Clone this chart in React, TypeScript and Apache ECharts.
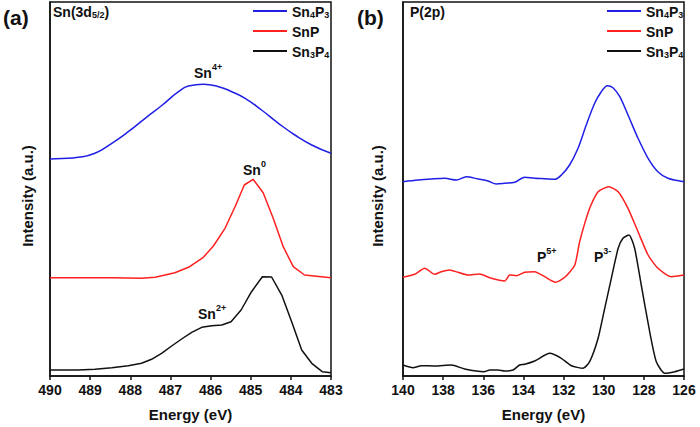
import React, { useEffect, useRef } from "react";
import * as echarts from "echarts";

// ---- Panel (a): Sn(3d5/2) ----
const snEnergyBlue = [490, 489.7, 489.3, 488.88, 488.46, 488.05, 487.63, 487.2, 486.8, 486.55, 486.18, 485.8, 485.47, 485.14, 484.73, 484.31, 483.9, 483.48, 483];
const snSn4P3 = [217, 217.5, 218.7, 222.7, 232.7, 244.3, 257.7, 271, 284.3, 290, 291.7, 289.3, 284.3, 277.7, 266, 252.7, 241, 231, 222.7];

const snEnergyRed = [490, 489.3, 488.46, 487.72, 487.38, 486.89, 486.55, 486.18, 485.93, 485.64, 485.39, 485.16, 484.94, 484.69, 484.44, 484.19, 483.94, 483.66, 483];
const snSnP = [98.3, 98.3, 98.3, 97.7, 98.7, 103.3, 108.7, 118.7, 130, 147.7, 169.3, 191, 196.7, 183.3, 157.7, 129.3, 109.3, 101, 98.3];

const snEnergyBlack = [490, 489.3, 488.88, 488.46, 488.05, 487.72, 487.47, 487.22, 486.97, 486.72, 486.47, 486.22, 485.97, 485.72, 485.49, 485.24, 484.98, 484.71, 484.48, 484.22, 483.98, 483.73, 483.48, 483.22, 483];
const snSn3P4 = [6, 6, 6.7, 8.3, 10.3, 12.7, 16.7, 22.7, 30, 37, 43.7, 48.7, 50.3, 51, 54.3, 66, 84.3, 99.3, 99, 80.3, 54.3, 26, 12.7, 4.3, 3.3];

// ---- Panel (b): P(2p) ----
const pEnergyBlue = [140, 139.25, 138.59, 137.92, 137.34, 136.84, 136.26, 135.76, 135.35, 134.93, 134.43, 133.94, 133.44, 132.94, 132.44, 132.11, 131.7, 131.28, 130.87, 130.45, 130.12, 129.82, 129.54, 129.2, 128.79, 128.29, 127.79, 127.3, 126.8, 126];
const pSn4P3 = [194.3, 196, 197, 197.7, 196, 199.3, 197, 195, 192, 192.7, 193.7, 198.7, 197.7, 197.3, 196.7, 201, 211, 227.7, 251, 272.7, 284.3, 290.3, 288.3, 279.3, 261, 237.7, 217.7, 204.3, 197.7, 194.3];

const pEnergyRed = [140, 139.42, 138.92, 138.42, 138.09, 137.67, 137.26, 136.76, 136.18, 135.68, 134.93, 134.68, 134.35, 133.94, 133.44, 132.94, 132.41, 131.94, 131.44, 131.2, 130.7, 130.28, 129.75, 129.28, 128.79, 128.29, 127.79, 127.3, 126.63, 126];
const pSnP = [98.7, 101.7, 107.7, 101.7, 104.3, 106, 103.7, 101, 102, 98.3, 95, 101, 100.3, 103.7, 104.3, 99.3, 93.7, 98.7, 111, 134.3, 167.7, 184.3, 189.3, 184.3, 167.7, 144.3, 121, 107.7, 99.3, 101];

const pEnergyBlack = [140, 139.5, 139.09, 138.42, 137.59, 136.93, 135.96, 135.68, 135.27, 134.93, 134.52, 134.19, 133.94, 133.44, 132.69, 132.11, 131.61, 131.03, 130.7, 130.28, 129.95, 129.62, 129.28, 129.04, 128.74, 128.46, 128.13, 127.71, 127.38, 126.96, 126.46, 126];
const pSn3P4 = [11, 8.3, 10.3, 10, 11, 7, 4.3, 6, 6, 5, 6, 11, 11.7, 15, 22.7, 17.7, 10.3, 7.7, 14.3, 37.7, 67.7, 97.7, 127.7, 137.7, 141, 127.7, 91, 44.3, 14.3, 2.7, 4.3, 7];

const seriesNames = ["Sn4P3", "SnP", "Sn3P4"];
const seriesColors = ["#1f1fe6", "#ff2020", "#111111"];

const FONT = "Liberation Sans, Arial, sans-serif";

const zip = (xs: number[], ys: number[]) => xs.map((x, i) => [x, ys[i]]);

const legendRich = {
  n: { fontSize: 14, fontWeight: "bold", fontFamily: FONT, color: "#111", lineHeight: 16, verticalAlign: "bottom" },
  s: { fontSize: 9, fontWeight: "bold", fontFamily: FONT, color: "#111", lineHeight: 10, verticalAlign: "bottom" },
};

const legendFormatter = (name: string) => {
  if (name === "Sn4P3") return "{n|Sn}{s|4}{n|P}{s|3}";
  if (name === "Sn3P4") return "{n|Sn}{s|3}{n|P}{s|4}";
  return "{n|" + name + "}";
};

const annRich = {
  b: { fontSize: 14, fontWeight: "bold", fontFamily: FONT, fill: "#111", lineHeight: 18, verticalAlign: "bottom" },
  sup: { fontSize: 9, fontWeight: "bold", fontFamily: FONT, fill: "#111", lineHeight: 10, verticalAlign: "top" },
  sub: { fontSize: 9, fontWeight: "bold", fontFamily: FONT, fill: "#111", lineHeight: 12, verticalAlign: "bottom" },
};

function ann(x: number, y: number, text: string) {
  return { type: "text", left: x, top: y, style: { text, rich: annRich, fill: "#111", font: "bold 14px " + FONT } };
}

export default function App() {
  const ref = useRef<HTMLDivElement>(null);
  useEffect(() => {
    if (!ref.current) return;
    const chart = echarts.init(ref.current, undefined, { renderer: "svg" });

    const xAxisCommon = {
      type: "value",
      inverse: true,
      name: "Energy (eV)",
      nameLocation: "middle",
      nameGap: 31,
      nameTextStyle: { fontSize: 15, fontWeight: "bold", fontFamily: FONT, color: "#111" },
      axisLine: { show: true, lineStyle: { color: "#111", width: 1.5 } },
      axisTick: { show: true, length: 4, inside: false, lineStyle: { color: "#111", width: 1.5 } },
      axisLabel: { fontSize: 14, fontWeight: "bold", fontFamily: FONT, color: "#111", margin: 7 },
      splitLine: { show: false },
    };
    const yAxisCommon = {
      type: "value",
      min: 0,
      max: 374,
      name: "Intensity (a.u.)",
      nameLocation: "middle",
      nameRotate: 90,
      nameTextStyle: { fontSize: 15, fontWeight: "bold", fontFamily: FONT, color: "#111", padding: [0, 14, 0, 0] },
      axisLine: { show: true, lineStyle: { color: "#111", width: 1.5 } },
      axisTick: { show: false },
      axisLabel: { show: false },
      splitLine: { show: false },
    };

    const mk = (name: string, idx: number, data: number[][], smooth: any) => ({
      type: "line",
      name,
      xAxisIndex: idx,
      yAxisIndex: idx,
      data,
      symbol: "none",
      smooth,
      lineStyle: { width: 1.5, color: seriesColors[seriesNames.indexOf(name)] },
      itemStyle: { color: seriesColors[seriesNames.indexOf(name)] },
    });

    const legendCommon = {
      orient: "vertical",
      top: 0,
      padding: 5,
      itemWidth: 34,
      itemHeight: 2,
      itemGap: 6,
      icon: "rect",
      data: seriesNames,
      formatter: legendFormatter,
      textStyle: { rich: legendRich },
    };

    chart.setOption({
      animation: false,
      backgroundColor: "#ffffff",
      grid: [
        { left: 50, right: 369, top: 2, bottom: 51, show: true, borderColor: "#111", borderWidth: 1.5 },
        { left: 403, right: 16, top: 2, bottom: 51, show: true, borderColor: "#111", borderWidth: 1.5 },
      ],
      xAxis: [
        { ...xAxisCommon, gridIndex: 0, min: 483, max: 490, interval: 1 },
        { ...xAxisCommon, gridIndex: 1, min: 126, max: 140, interval: 2 },
      ],
      yAxis: [
        { ...yAxisCommon, gridIndex: 0, nameGap: 15 },
        { ...yAxisCommon, gridIndex: 1, nameGap: 18 },
      ],
      legend: [
        { ...legendCommon, left: 248 },
        { ...legendCommon, left: 602 },
      ],
      series: [
        mk("Sn4P3", 0, zip(snEnergyBlue, snSn4P3), true),
        mk("SnP", 0, zip(snEnergyRed, snSnP), false),
        mk("Sn3P4", 0, zip(snEnergyBlack, snSn3P4), false),
        mk("Sn4P3", 1, zip(pEnergyBlue, pSn4P3), 0.3),
        mk("SnP", 1, zip(pEnergyRed, pSnP), 0.2),
        mk("Sn3P4", 1, zip(pEnergyBlack, pSn3P4), 0.2),
      ],
      graphic: [
        { type: "text", left: 3, top: 7, style: { text: "(a)", fill: "#111", font: "bold 21px " + FONT } },
        { type: "text", left: 357, top: 7, style: { text: "(b)", fill: "#111", font: "bold 21px " + FONT } },
        ann(53, 5, "{b|Sn(3d}{sub|5/2}{b|)}"),
        ann(410, 5, "{b|P(2p)}"),
        ann(194, 62, "{b|Sn}{sup|4+}"),
        ann(243, 159, "{b|Sn}{sup|0}"),
        ann(198, 303, "{b|Sn}{sup|2+}"),
        ann(537, 246, "{b|P}{sup|5+}"),
        ann(594, 246, "{b|P}{sup|3-}"),
      ],
    });
    return () => chart.dispose();
  }, []);
  return <div ref={ref} style={{ position: "fixed", left: 0, top: 0, width: 700, height: 427 }} />;
}
